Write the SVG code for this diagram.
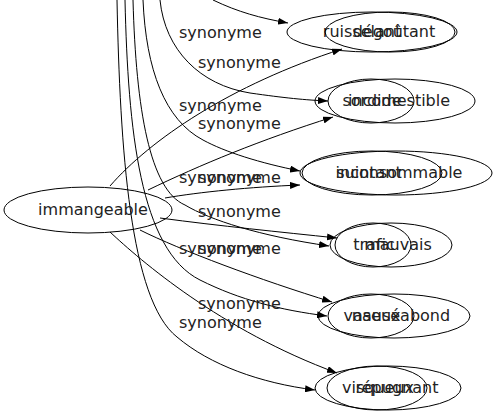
<svg xmlns="http://www.w3.org/2000/svg" width="496" height="419" viewBox="0 0 496 419">
<defs>
<marker id="arr" viewBox="0 0 10 7" refX="10" refY="3.5" markerWidth="10" markerHeight="7" markerUnits="userSpaceOnUse" orient="auto"><path d="M0,0 L10,3.5 L0,7 z" fill="#000"/></marker>
<style>
.n{fill:none;stroke:#000;stroke-width:1}
.t{font-family:"DejaVu Sans",sans-serif;font-size:16px;fill:#222;text-anchor:middle}
.l{font-family:"DejaVu Sans",sans-serif;font-size:16px;fill:#222}
.e{fill:none;stroke:#000;stroke-width:1;marker-end:url(#arr)}
</style>
</defs>
<rect width="496" height="419" fill="#fff"/>
<g id="edges">
<path class="e" d="M213,0 C238,12 260,18 288,23"/>
<path class="e" d="M160,0 C165,50 200,85 250,93 C285,98 305,100 328,101"/>
<path class="e" d="M143,0 C146,70 165,120 203,140 C225,152 260,163 300,171"/>
<path class="e" d="M133,0 C136,110 150,190 185,205 C210,220 260,236 329,246"/>
<path class="e" d="M125,0 C128,130 140,250 200,280 C240,300 280,310 327,316"/>
<path class="e" d="M117,0 C120,150 130,300 177,337 C210,365 260,383 315,390"/>
<path class="e" d="M110,186 C150,140 230,85 342,49"/>
<path class="e" d="M148,190 C200,165 260,140 333,117"/>
<path class="e" d="M165,198 C200,192 250,187 300,185"/>
<path class="e" d="M160,218 C220,226 280,232 337,238"/>
<path class="e" d="M140,230 C180,250 260,280 332,302"/>
<path class="e" d="M110,232 C140,260 220,330 337,373"/>
</g>
<g id="labels">
<text class="l" x="179" y="38">synonyme</text>
<text class="l" x="198" y="68">synonyme</text>
<text class="l" x="179" y="111">synonyme</text>
<text class="l" x="198" y="129">synonyme</text>
<text class="l" x="179" y="183">synonyme</text>
<text class="l" x="198" y="183">synonyme</text>
<text class="l" x="198" y="217">synonyme</text>
<text class="l" x="179" y="254">synonyme</text>
<text class="l" x="198" y="254">synonyme</text>
<text class="l" x="198" y="309">synonyme</text>
<text class="l" x="179" y="328">synonyme</text>
</g>
<g id="immangeable"><ellipse class="n" cx="88" cy="210" rx="84" ry="23"/><text class="t" x="93" y="215">immangeable</text></g>
<g id="ruisselant"><ellipse class="n" cx="372" cy="32" rx="85" ry="20"/><text class="t" x="362" y="37">ruisselant</text></g>
<g id="degoutant"><ellipse class="n" cx="390" cy="32" rx="65" ry="20"/><text class="t" x="394" y="37">dégoûtant</text></g>
<g id="sordide"><ellipse class="n" cx="371" cy="101" rx="43" ry="22"/><text class="t" x="372" y="106">sordide</text></g>
<g id="incomestible"><ellipse class="n" cx="395" cy="101" rx="80" ry="22"/><text class="t" x="399" y="106">incomestible</text></g>
<g id="suintant"><ellipse class="n" cx="372" cy="173" rx="70" ry="22"/><text class="t" x="369" y="178">suintant</text></g>
<g id="inconsommable"><ellipse class="n" cx="396" cy="173" rx="96" ry="22"/><text class="t" x="399" y="178">inconsommable</text></g>
<g id="trafic"><ellipse class="n" cx="373" cy="245" rx="38" ry="22"/><text class="t" x="374" y="250">trafic</text></g>
<g id="mauvais"><ellipse class="n" cx="391" cy="245" rx="61" ry="22"/><text class="t" x="398" y="250">mauvais</text></g>
<g id="vaseux"><ellipse class="n" cx="371" cy="316" rx="43" ry="22"/><text class="t" x="372" y="321">vaseux</text></g>
<g id="nauseabond"><ellipse class="n" cx="394" cy="316" rx="76" ry="22"/><text class="t" x="401" y="321">nauséabond</text></g>
<g id="visqueux"><ellipse class="n" cx="377" cy="388" rx="50" ry="22"/><text class="t" x="378" y="393">visqueux</text></g>
<g id="repugnant"><ellipse class="n" cx="388" cy="388" rx="73" ry="22"/><text class="t" x="397" y="393">répugnant</text></g>
</svg>
